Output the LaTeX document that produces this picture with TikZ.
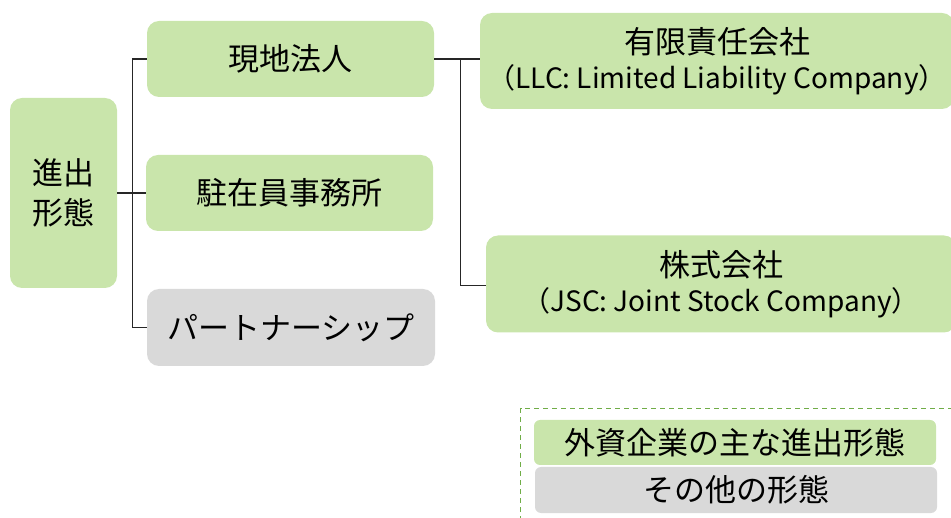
\documentclass[tikz,border=0pt]{standalone}
\usepackage{fontspec}
\setmainfont{Noto Sans CJK JP}
\definecolor{boxgreen}{HTML}{C9E5AB}
\definecolor{boxgray}{HTML}{D9D9D9}
\definecolor{dashgreen}{HTML}{70AD47}
\begin{document}
\begin{tikzpicture}[x=1pt,y=-1pt,
  base/.style={rectangle,rounded corners=12pt,inner sep=0pt,align=center,font=\fontsize{31}{38}\selectfont},
  gbox/.style={base,fill=boxgreen},
  graybox/.style={base,fill=boxgray},
  conn/.style={draw=black!85,line width=1.1pt}]
\useasboundingbox (0,0) rectangle (951,518);
\begin{scope}
\clip (0,0) rectangle (951,518);
\node[gbox,minimum width=107pt,minimum height=190pt,font=\fontsize{31}{40}\selectfont] (root) at (63.5,193) {進出\\形態};
\node[gbox,minimum width=287pt,minimum height=76pt] (genchi) at (290.5,59) {現地法人};
\node[gbox,minimum width=287pt,minimum height=76pt] (chuzai) at (289.5,193) {駐在員事務所};
\node[graybox,minimum width=288pt,minimum height=77pt] (partner) at (291,327.5) {パートナーシップ};
\node[gbox,minimum width=474pt,minimum height=96pt,font=\fontsize{31}{35}\selectfont] (llc) at (717,61) {有限責任会社\\{\fontsize{28}{35}\selectfont （LLC: Limited Liability Company）}};
\node[gbox,minimum width=470pt,minimum height=97pt,font=\fontsize{31}{35}\selectfont] (jsc) at (721,284) {株式会社\\{\fontsize{28}{35}\selectfont （JSC: Joint Stock Company）}};
\draw[dashgreen,dashed,line width=1pt,dash pattern=on 5pt off 4pt] (520.5,530) -- (520.5,408.5) -- (960,408.5);
\node[gbox,rounded corners=6pt,minimum width=402pt,minimum height=45pt] (leg1) at (735,442.5) {外資企業の主な進出形態};
\node[graybox,rounded corners=6pt,minimum width=402pt,minimum height=46pt] (leg2) at (736,490) {その他の形態};
\end{scope}
\coordinate (j1) at ([xshift=15pt]root.east);
\draw[conn] (root.east) -- (j1);
\draw[conn] (genchi.west) -| (j1) |- (partner.west);
\draw[conn] (j1) -- (chuzai.west);
\coordinate (j2) at ([xshift=26pt]genchi.east);
\draw[conn] (genchi.east) -- (j2) -- (llc.west |- j2);
\draw[conn] (j2) |- ([yshift=-1.5pt]jsc.west);
\end{tikzpicture}
\end{document}
